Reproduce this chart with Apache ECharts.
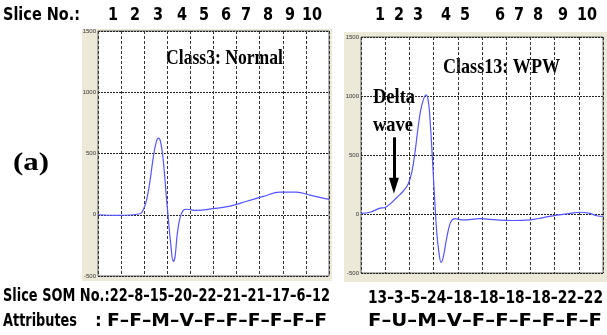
<!DOCTYPE html>
<html>
<head>
<meta charset="utf-8">
<script src="https://cdn.jsdelivr.net/npm/echarts@6/dist/echarts.min.js"></script>
<style>
  html, body { margin: 0; padding: 0; background: #fff; }
  #chart { width: 607px; height: 335px; }
</style>
</head>
<body>
<div id="chart"></div>
<script>
// slice labels
const sliceNo = ["1", "2", "3", "4", "5", "6", "7", "8", "9", "10"];

// class 3: normal beat
const normalT = [0, 8.8, 18.2, 19.6, 21.1, 22.5, 23.9, 25.1, 26.1, 27.1, 28.3, 29.4, 30.4, 31.5, 32.6, 33.3, 34.3, 35.5, 36.9, 38.4, 42.7, 49.9, 57.1, 64.4, 71.6, 78.8, 86, 91.8, 100];
const normalV = [0, -5, 8, 40, 125, 275, 465, 585, 625, 595, 435, 190, -25, -240, -380, -350, -160, -25, 35, 45, 35, 50, 70, 110, 150, 185, 185, 160, 125];
const normalSom = [22, 8, 15, 20, 22, 21, 21, 17, 6, 12];
const normalAttr = ["F", "F", "M", "V", "F", "F", "F", "F", "F", "F"];

// class 13: WPW beat
const wpwT = [0, 3.7, 7.9, 9.9, 12, 14.8, 17.5, 19.5, 21, 22.3, 23.7, 25.1, 26.9, 27.8, 28.5, 29.2, 29.9, 30.6, 31.3, 32.2, 33.1, 34, 35.1, 36.5, 37.5, 38.8, 42.3, 49.2, 56.1, 62.9, 69.8, 75.3, 80.9, 86.4, 90.5, 94.6, 97.4, 100];
const wpwV = [5, 15, 50, 55, 85, 140, 195, 255, 355, 520, 750, 920, 1010, 960, 805, 580, 325, 70, -155, -325, -410, -365, -240, -100, -55, -40, -50, -40, -50, -55, -50, -30, -10, 5, 15, 5, -15, -20];
const wpwSom = [13, 3, 5, 24, 18, 18, 18, 18, 22, 22];
const wpwAttr = ["F", "U", "M", "V", "F", "F", "F", "F", "F", "F"];

// delta wave arrow (data coords)
const arrowT = 13.6;
const arrowV = [650, 240];

const chart = echarts.init(document.getElementById("chart"));

const measure = document.createElement("canvas").getContext("2d");
function fit(str, font, w) {
  measure.font = font;
  return w / measure.measureText(str).width;
}

const sansB = "bold 17px 'DejaVu Sans'";
const serifB = "bold 22px 'Liberation Serif'";

function txt(str, x, y, font, width, align, sx) {
  return {
    type: "text",
    x: x,
    y: y,
    scaleX: width ? fit(str, font, width) : (sx || 1),
    style: {
      text: str,
      font: font,
      fill: "#000",
      align: align || "left",
      verticalAlign: "middle",
    },
  };
}

const leftNumX = [113, 135, 158, 182, 204, 226, 246, 268, 290, 312];
const rightNumX = [380, 399, 418, 446, 465, 500, 519, 538, 563, 587];

const graphics = [
  { type: "rect", z: -10, shape: { x: 82, y: 29, width: 250, height: 252 }, style: { fill: "#ECE9D8" } },
  { type: "rect", z: -10, shape: { x: 344, y: 32, width: 263, height: 250 }, style: { fill: "#ECE9D8" } },
  txt("Slice No.:", 3, 16, sansB, 77),
  txt("(a)", 13, 163, "bold 26px 'Liberation Serif'", 36),
  txt("Class3: Normal", 166, 58, serifB, 117),
  txt("Class13: WPW", 443, 67, serifB, 117),
  txt("Delta", 373, 97, serifB, 42),
  txt("wave", 373, 125, serifB, 40),
  txt("Slice SOM No.:" + normalSom.join("–"), 3, 297, sansB, 327),
  txt("Attributes", 3, 322, sansB, 74),
  txt(":", 95, 322, sansB, 0),
  txt(normalAttr.join("–"), 107, 322, sansB, 220),
  txt(wpwSom.join("–"), 368, 299, sansB, 235),
  txt(wpwAttr.join("–"), 368, 322, sansB, 234),
];
sliceNo.forEach((s, i) => {
  graphics.push(txt(s, leftNumX[i], 16, sansB, 0, "center", 0.85));
  graphics.push(txt(s, rightNumX[i], 16, sansB, 0, "center", 0.85));
});

function xAxis(gi) {
  return {
    gridIndex: gi,
    type: "value",
    min: 0,
    max: 100,
    interval: 10,
    axisLine: { show: false },
    axisTick: { show: false },
    axisLabel: { show: false },
    splitLine: { show: true, lineStyle: { color: "#333", type: [3, 2], width: 1 } },
  };
}
function yAxis(gi) {
  return {
    gridIndex: gi,
    type: "value",
    min: -500,
    max: 1500,
    interval: 500,
    axisLine: { show: false },
    axisTick: { show: false },
    axisLabel: { fontSize: 6, color: "#333", margin: 2, fontFamily: "Liberation Sans", formatter: (v) => String(v) },
    splitLine: { show: true, lineStyle: { color: "#222", type: [2, 1], width: 1 } },
  };
}

chart.setOption({
  animation: false,
  backgroundColor: "#fff",
  graphic: graphics,
  grid: [
    { left: 98, top: 31, width: 231, height: 245, show: true, backgroundColor: "#fff", borderColor: "#666", borderWidth: 1 },
    { left: 361, top: 37, width: 242, height: 236, show: true, backgroundColor: "#fff", borderColor: "#666", borderWidth: 1 },
  ],
  xAxis: [xAxis(0), xAxis(1)],
  yAxis: [yAxis(0), yAxis(1)],
  series: [
    {
      type: "line",
      xAxisIndex: 0,
      yAxisIndex: 0,
      data: normalT.map((t, i) => [t, normalV[i]]),
      smooth: 0.4,
      showSymbol: false,
      lineStyle: { color: "#5555ff", width: 1.2 },
    },
    {
      type: "line",
      xAxisIndex: 1,
      yAxisIndex: 1,
      data: wpwT.map((t, i) => [t, wpwV[i]]),
      smooth: 0.4,
      showSymbol: false,
      lineStyle: { color: "#5555ff", width: 1.2 },
      markLine: {
        silent: true,
        symbol: ["none", "triangle"],
        symbolSize: [10, 16],
        symbolRotate: 180,
        label: { show: false },
        lineStyle: { color: "#000", width: 3, type: "solid" },
        data: [[{ coord: [arrowT, arrowV[0]] }, { coord: [arrowT, arrowV[1]] }]],
      },
    },
  ],
});
</script>
</body>
</html>
